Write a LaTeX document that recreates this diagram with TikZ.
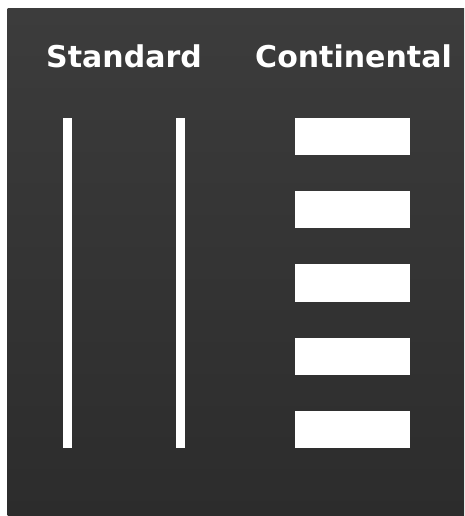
\documentclass[tikz,border=0pt]{standalone}
\usepackage{fontspec}
\newfontfamily\labelfont{DejaVu Sans}
\definecolor{bgtop}{HTML}{3C3C3C}
\definecolor{bgbot}{HTML}{2C2C2C}
\tikzset{
  lbl/.style={text=white, font=\labelfont\bfseries\fontsize{30}{36}\selectfont, anchor=base, inner sep=0pt},
  barv/.style={fill=white, draw=none},
  barh/.style={fill=white, draw=none}
}
\begin{document}
\begin{tikzpicture}[x=1pt,y=-1pt]
\useasboundingbox (0,0) rectangle (464,516);
\fill[white] (0,0) rectangle (464,516);
\shade[top color=bgtop, bottom color=bgbot] (7.5,8.5) rectangle (464,516);
\node[lbl] (std) at (124,68) {Standard};
\node[lbl] (cont) at (353.5,68) {Continental};
\fill[barv] (63,118) rectangle (71.5,448);
\fill[barv] (176,118) rectangle (184.5,448);
\foreach \t/\n in {118/1,191.2/2,264.4/3,337.6/4,410.8/5}{
  \fill[barh] (295,\t) rectangle (410,\t+37.2);
}
\end{tikzpicture}
\end{document}
